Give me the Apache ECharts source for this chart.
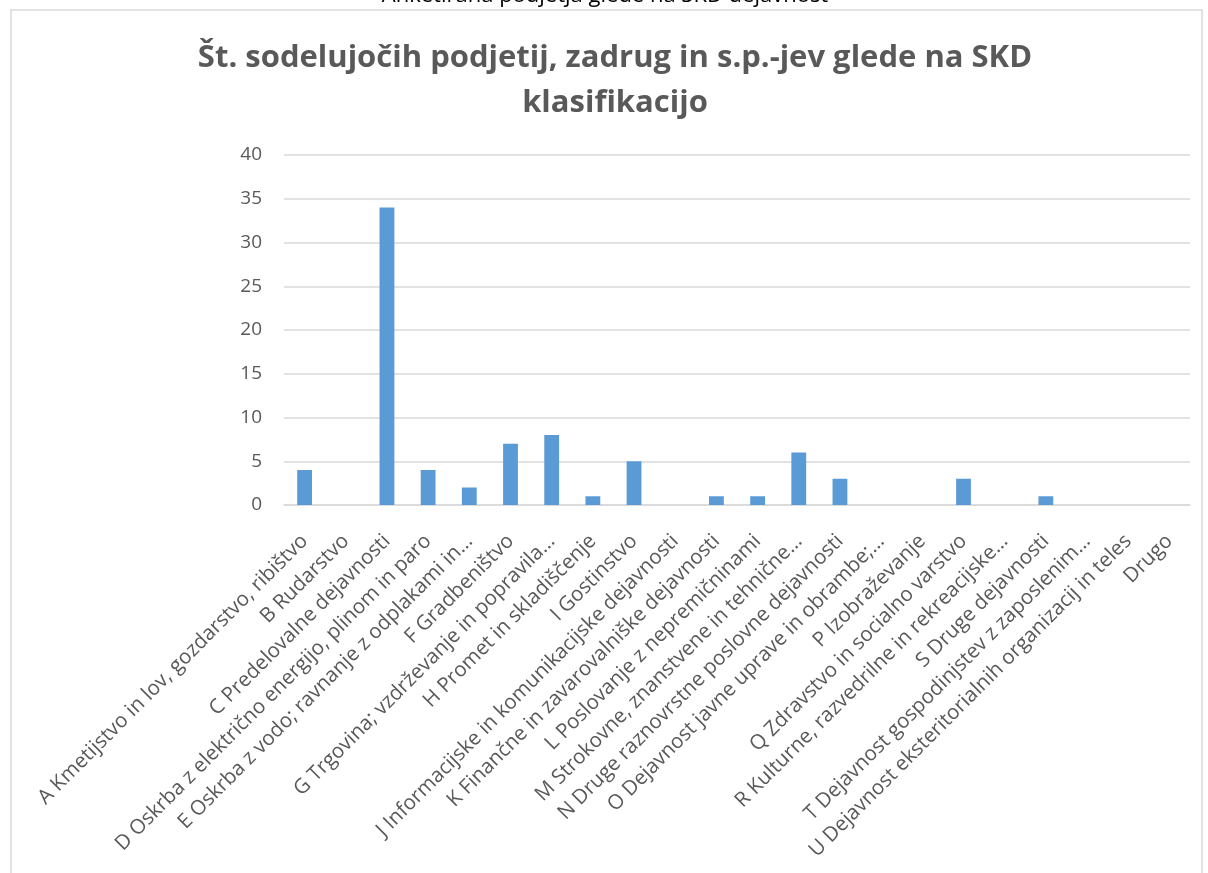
<!DOCTYPE html>
<html>
<head>
<meta charset="utf-8">
<script src="https://cdn.jsdelivr.net/npm/echarts@6/dist/echarts.min.js"></script>
<style>
  html, body { margin: 0; padding: 0; background: #fff; }
  #chart { width: 1208px; height: 873px; }
</style>
</head>
<body>
<div id="chart"></div>
<script>
// podatki
const categories = [
  "A Kmetijstvo in lov, gozdarstvo, ribištvo",
  "B Rudarstvo",
  "C Predelovalne dejavnosti",
  "D Oskrba z električno energijo, plinom in paro",
  "E Oskrba z vodo; ravnanje z odplakami in…",
  "F Gradbeništvo",
  "G Trgovina; vzdrževanje in popravila…",
  "H Promet in skladiščenje",
  "I Gostinstvo",
  "J Informacijske in komunikacijske dejavnosti",
  "K Finančne in zavarovalniške dejavnosti",
  "L Poslovanje z nepremičninami",
  "M Strokovne, znanstvene in tehnične…",
  "N Druge raznovrstne poslovne dejavnosti",
  "O Dejavnost javne uprave in obrambe;…",
  "P Izobraževanje",
  "Q Zdravstvo in socialno varstvo",
  "R Kulturne, razvedrilne in rekreacijske…",
  "S Druge dejavnosti",
  "T Dejavnost gospodinjstev z zaposlenim…",
  "U Dejavnost eksteritorialnih organizacij in teles",
  "Drugo"
];

const counts = [4, 0, 34, 4, 2, 7, 8, 1, 5, 0, 1, 1, 6, 3, 0, 0, 3, 0, 1, 0, 0, 0];

const yMin = 0;
const yMax = 40;
const yStep = 5;

const sheetTitle = "Anketirana podjetja glede na SKD dejavnost";
const chartTitle = "Št. sodelujočih podjetij, zadrug in s.p.-jev glede na SKD\nklasifikacijo";

const chart = echarts.init(document.getElementById("chart"));

chart.setOption({
  animation: false,
  textStyle: { fontFamily: "Open Sans" },
  graphic: [
    {
      type: "rect",
      shape: { x: 11, y: 10, width: 1191, height: 880 },
      style: { fill: "none", stroke: "#d9d9d9", lineWidth: 1.5 },
      silent: true
    },
    {
      type: "text",
      x: 605,
      y: -15,
      style: {
        text: sheetTitle,
        font: "22px 'Open Sans'",
        fill: "#000",
        align: "center"
      },
      silent: true
    },
    {
      type: "text",
      x: 615,
      y: 36,
      style: {
        text: chartTitle,
        font: "bold 31px 'Open Sans'",
        fill: "#595959",
        align: "center",
        lineHeight: 45
      },
      silent: true
    }
  ],
  grid: { left: 284, right: 18, top: 155, bottom: 368 },
  xAxis: {
    type: "category",
    data: categories,
    axisLine: { lineStyle: { color: "#d9d9d9", width: 1.5 } },
    axisTick: { show: false },
    axisLabel: {
      interval: 0,
      rotate: 45,
      color: "#595959",
      fontSize: 20.5,
      margin: 33
    }
  },
  yAxis: {
    type: "value",
    min: yMin,
    max: yMax,
    interval: yStep,
    axisLine: { show: false },
    axisTick: { show: false },
    axisLabel: { color: "#595959", fontSize: 19, margin: 22 },
    splitLine: { lineStyle: { color: "#d9d9d9", width: 1.5 } }
  },
  series: [{
    type: "bar",
    data: counts,
    barWidth: "36%",
    itemStyle: { color: "#5b9bd5" }
  }]
});
</script>
</body>
</html>
